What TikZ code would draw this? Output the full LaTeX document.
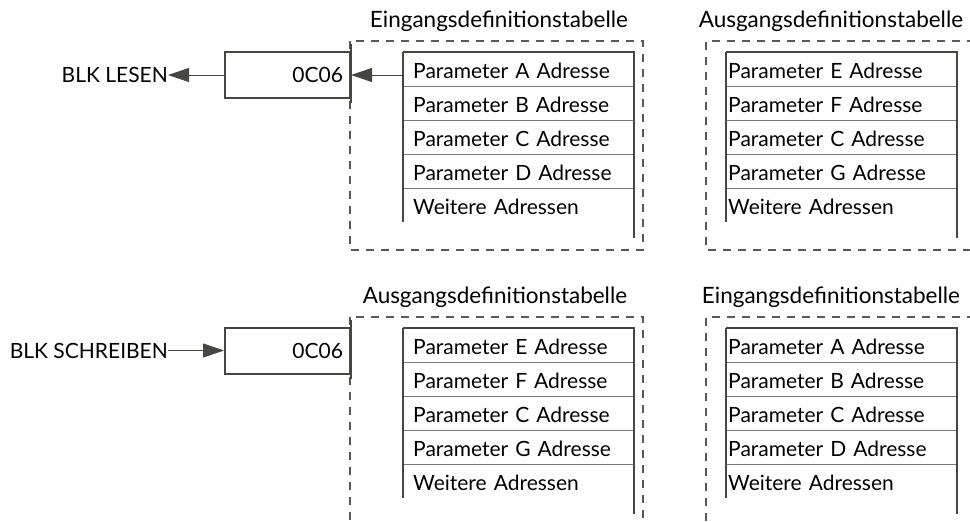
\documentclass[tikz,border=0pt]{standalone}
\usepackage{fontspec}
\setmainfont{Lato}
\usetikzlibrary{arrows.meta,positioning,calc}
\definecolor{linegray}{HTML}{474742}
\definecolor{rulegray}{HTML}{7A7A74}
\begin{document}
\begin{tikzpicture}[x=1pt,y=-1pt,font=\fontsize{21}{25}\selectfont,>={Triangle[length=21pt,width=14pt]},
  frame/.style={draw=linegray!90,line width=1.8pt,dash pattern=on 8pt off 7pt},
  regbox/.style={draw=linegray,line width=2pt,minimum width=125pt,minimum height=46pt,text width=111pt,align=right,inner xsep=7pt},
  rowcell/.style={anchor=north west,minimum height=34pt,inner ysep=0pt,text height=20pt,text depth=2pt,align=left},
  tabtitle/.style={font=\fontsize{22.5}{26}\selectfont},
  tableline/.style={linegray,line width=2pt},
  pointer/.style={->,linegray,line width=1pt}]
\clip (0,0) rectangle (970,522);
\draw[frame] (350,41) rectangle (643,250);
\draw[frame] (350,317) rectangle (643,526);
\draw[frame] (990,41) -| (706,250) -- (990,250);
\draw[frame] (990,317) -| (706,526);
\foreach \tb/\x/\y/\pad/\tx/\ttl/\rows in {inL/403/52/10/499/Eingangsdefinitionstabelle/{A,B,C,D},
  outL/726/52/2/831/Ausgangsdefinitionstabelle/{E,F,C,G},
  outW/403/328/10/495/Ausgangsdefinitionstabelle/{E,F,C,G},
  inW/726/328/2/831/Eingangsdefinitionstabelle/{A,B,C,D}}
 {\pgfmathsetmacro\tw{231-2*\pad}
  \node[tabtitle] (\tb-ttl) at (\tx,{\y-31}) {\ttl};
  \foreach \r [count=\i from 0] in \rows
   \node[rowcell,inner xsep=\pad pt,text width=\tw pt] (\tb-\i) at (\x,{\y+34*\i}) {Parameter \r{} Adresse};
  \node[rowcell,inner xsep=\pad pt,text width=\tw pt] (\tb-4) at (\x,{\y+136}) {Weitere Adressen};
  \foreach \i in {0,...,3}\draw[rulegray,line width=1pt](\tb-\i.south west)--(\tb-\i.south east);
  \draw[tableline](\tb-0.north west)--(\tb-4.south west);
  \draw[tableline](\tb-0.north west)--(\tb-0.north east)--([yshift=-16pt]\tb-4.south east);}
\node[regbox] (regR) at (287.5,75) {0C06};
\node[regbox] (regW) at (287.5,350.5) {0C06};
\draw[tableline,line width=2.4pt]([yshift=7pt]regR.north east)--([yshift=-4pt]regR.south east);
\draw[tableline,line width=2.4pt]([yshift=7pt]regW.north east)--([yshift=-4pt]regW.south east);
\node[anchor=east,inner sep=0pt] (lesen) at (168,75) {BLK LESEN};
\node[anchor=east,inner sep=0pt] (schreiben) at (168,350.5) {BLK SCHREIBEN};
\draw[pointer](regR.east -| inL-0.west)--(regR.east);
\draw[pointer](regR.west)--(lesen.east);
\draw[pointer](schreiben.east)--(regW.west);
\end{tikzpicture}
\end{document}
